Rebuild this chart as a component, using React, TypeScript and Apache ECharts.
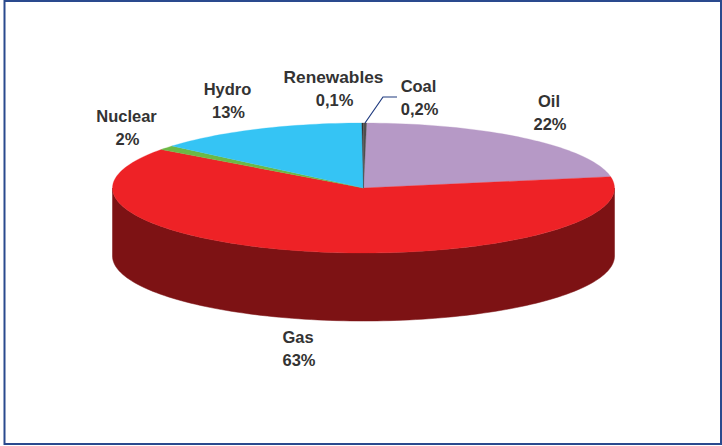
import React, { useEffect, useRef } from "react";
import * as echarts from "echarts";

// Clockwise from Oil. Shares follow the wedges as drawn; printed labels are kept separately.
const categories = ["Oil", "Gas", "Nuclear", "Hydro", "Renewables", "Coal"];
const sliceShares = [22, 62.8, 1.1, 13.7, 0.1, 0.2];
const percentLabels = ["22%", "63%", "2%", "13%", "0,1%", "0,2%"];
const sliceColors = ["#b699c6", "#ee2226", "#6cb945", "#35c4f4", "#333333", "#4d4d4d"];
const wallColor = "#7d1214";
const labelCenters = [
  [549, 101],
  [298, 337],
  [126.5, 116],
  [227.5, 89],
  [333.5, 77],
  [418.5, 86],
];
const labelFontSizes = [16.5, 16.5, 16.5, 16.5, 17.3, 16.5];

const CX = 363.5;
const CY = 188;
const RX = 251;
const RY = 65;
const DEPTH = 68;
const START_DEG = 0.7;
const total = sliceShares.reduce((a, b) => a + b, 0);

const rad = (d: number) => (d * Math.PI) / 180;
const px = (d: number) => CX + RX * Math.sin(rad(d));
const py = (d: number) => CY - RY * Math.cos(rad(d));

function arcPoints(a: number, b: number, dy = 0) {
  const n = Math.max(2, Math.ceil(Math.abs(b - a) / 1.5));
  const pts: number[][] = [];
  for (let i = 0; i <= n; i++) {
    const d = a + ((b - a) * i) / n;
    pts.push([px(d), py(d) + dy]);
  }
  return pts;
}

function renderItem(params: any, api: any) {
  const idx = params.dataIndex;
  let before = 0;
  for (let i = 0; i < idx; i++) before += sliceShares[i];
  const a = START_DEG + (before / total) * 360;
  const b = a + (api.value(0) / total) * 360;
  const children: any[] = [];
  const wa = Math.max(a, 90);
  const wb = Math.min(b, 270);
  if (wb > wa) {
    children.push({
      type: "polygon",
      shape: { points: [...arcPoints(wa, wb), ...arcPoints(wb, wa, DEPTH)] },
      style: { fill: wallColor, stroke: wallColor, lineWidth: 0.5 },
    });
  }
  const color = sliceColors[idx];
  children.push({
    type: "polygon",
    shape: { points: [[CX, CY], ...arcPoints(a, b)] },
    style: { fill: color, stroke: color, lineWidth: 0.3 },
  });
  return { type: "group", children };
}

const labelStyle = {
  fontFamily: "'Liberation Sans', Arial, sans-serif",
  fontWeight: "bold",
  fill: "#333333",
  textAlign: "center",
  textVerticalAlign: "middle",
};

export default function App() {
  const ref = useRef<HTMLDivElement>(null);
  useEffect(() => {
    document.body.style.margin = "0";
    const chart = echarts.init(ref.current!, undefined, { renderer: "svg" });
    const labels: any[] = [];
    categories.forEach((name, i) => {
      const [x, y] = labelCenters[i];
      labels.push({ type: "text", x, y, style: { ...labelStyle, fontSize: labelFontSizes[i], text: name } });
      labels.push({ type: "text", x: x + 1, y: y + 23, style: { ...labelStyle, fontSize: 16.5, text: percentLabels[i] } });
    });
    chart.setOption({
      animation: false,
      backgroundColor: "#ffffff",
      graphic: [
        {
          type: "rect",
          shape: { x: 4.5, y: 1, width: 716.5, height: 443 },
          style: { fill: "none", stroke: "#2a4a8e", lineWidth: 2 },
        },
        {
          type: "polyline",
          z: 10,
          shape: { points: [[365, 123], [383, 97], [397, 97]] },
          style: { stroke: "#1f3a7f", lineWidth: 1.2, fill: "none" },
        },
        ...labels.map((l) => ({ ...l, z: 11 })),
      ],
      series: [
        {
          type: "custom",
          coordinateSystem: "none",
          renderItem,
          data: sliceShares.map((v, i) => ({ name: categories[i], value: [v] })),
          silent: true,
        },
      ],
    });
    return () => chart.dispose();
  }, []);
  return <div ref={ref} style={{ width: 722, height: 446 }} />;
}
